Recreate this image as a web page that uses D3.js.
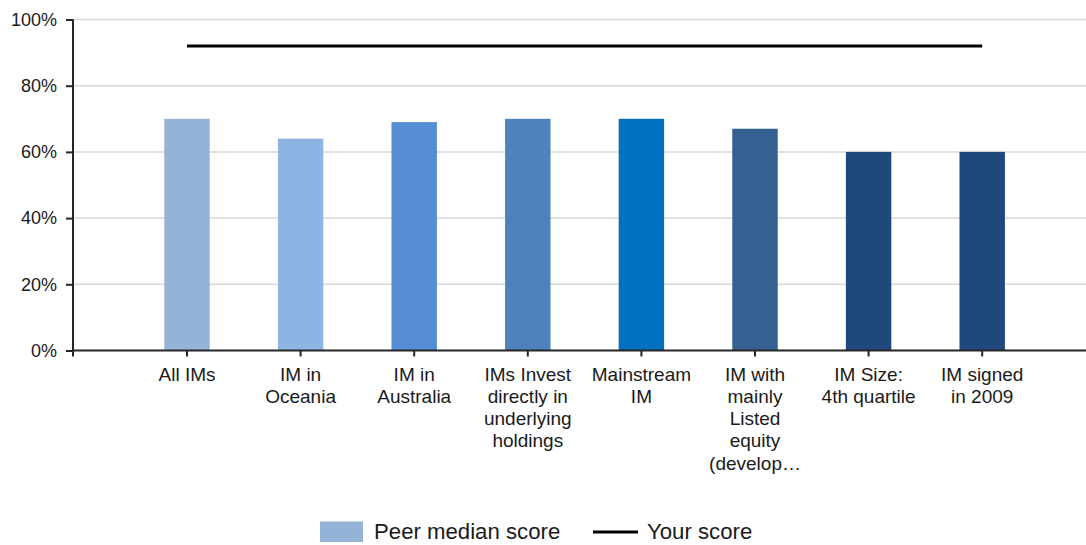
<!DOCTYPE html>
<html>
<head>
<meta charset="utf-8">
<script src="https://cdn.jsdelivr.net/npm/d3@7"></script>
<style>
  body { margin: 0; background: #fff; }
  text { font-family: "Liberation Sans", Arial, sans-serif; fill: #1a1a1a; }
</style>
</head>
<body>
<svg id="chart" width="1086" height="545"></svg>
<script>
const categories = ["All IMs", "IM in Oceania", "IM in Australia", "IMs Invest directly in underlying holdings",
  "Mainstream IM", "IM with mainly Listed equity (developed)", "IM Size: 4th quartile", "IM signed in 2009"];
const tickLines = [
  ["All IMs"],
  ["IM in", "Oceania"],
  ["IM in", "Australia"],
  ["IMs Invest", "directly in", "underlying", "holdings"],
  ["Mainstream", "IM"],
  ["IM with", "mainly", "Listed", "equity", "(develop\u2026"],
  ["IM Size:", "4th quartile"],
  ["IM signed", "in 2009"]
];
const peerMedian = [0.70, 0.64, 0.69, 0.70, 0.70, 0.67, 0.60, 0.60];
const yourScore = 0.92;
const barColors = ["#95b3d7", "#8eb4e3", "#558ed5", "#4f81bd", "#0070c0", "#376092", "#1f497d", "#1f497d"];
const yTicks = [0, 0.2, 0.4, 0.6, 0.8, 1.0];

const svg = d3.select("#chart");
const width = +svg.attr("width");
const axisLeftX = 73;
const y0 = 350.5, y1 = 19.5;

const x = d3.scaleBand()
    .domain(categories)
    .range([130.2, 1039])
    .paddingInner(0.6)
    .paddingOuter(0.3);
const y = d3.scaleLinear().domain([0, 1]).range([y0, y1]);

// gridlines
svg.append("g")
    .selectAll("line")
    .data(yTicks.slice(1))
    .join("line")
    .attr("x1", axisLeftX)
    .attr("x2", width)
    .attr("y1", d => y(d))
    .attr("y2", d => y(d))
    .attr("stroke", "#d9d9d9")
    .attr("stroke-width", 1.5);

// bars
svg.append("g")
    .selectAll("rect")
    .data(peerMedian)
    .join("rect")
    .attr("x", (d, i) => x(categories[i]))
    .attr("y", d => y(d))
    .attr("width", x.bandwidth())
    .attr("height", d => y0 - y(d))
    .attr("fill", (d, i) => barColors[i]);

// your score line
svg.append("line")
    .attr("x1", x(categories[0]) + x.bandwidth() / 2)
    .attr("x2", x(categories[categories.length - 1]) + x.bandwidth() / 2)
    .attr("y1", y(yourScore))
    .attr("y2", y(yourScore))
    .attr("stroke", "#000")
    .attr("stroke-width", 3);

// y axis
const yAxis = svg.append("g")
    .attr("transform", `translate(${axisLeftX},0)`)
    .call(d3.axisLeft(y).tickValues(yTicks).tickFormat(d3.format(".0%")).tickSize(7).tickPadding(9));
yAxis.select(".domain").attr("stroke", "#262626").attr("stroke-width", 2)
    .attr("d", `M0,${y1}V${y0 + 6}`);
yAxis.selectAll(".tick line").attr("stroke", "#262626").attr("stroke-width", 2);
yAxis.selectAll(".tick text").style("font-size", "18px").attr("fill", "#1a1a1a");

// x axis
const xAxis = svg.append("g")
    .attr("transform", `translate(0,${y0})`)
    .call(d3.axisBottom(x).tickSize(6).tickFormat(""));
xAxis.select(".domain").attr("stroke", "#262626").attr("stroke-width", 2)
    .attr("d", `M${axisLeftX},0H${width}`);
xAxis.selectAll(".tick line").attr("stroke", "#262626").attr("stroke-width", 2);

xAxis.selectAll(".tick text").remove();
xAxis.selectAll(".tick").each(function (d, i) {
  const t = d3.select(this).append("text")
      .attr("text-anchor", "middle")
      .style("font-size", "19px")
      .attr("fill", "#1a1a1a");
  tickLines[i].forEach((line, j) => {
    t.append("tspan").attr("x", 0).attr("y", 30 + j * 22.3).text(line);
  });
});

// legend
const legend = svg.append("g");
legend.append("rect")
    .attr("x", 320).attr("y", 521.5).attr("width", 43).attr("height", 20.5)
    .attr("fill", barColors[0]);
legend.append("text").attr("x", 374).attr("y", 539).style("font-size", "22.2px").text("Peer median score");
legend.append("line")
    .attr("x1", 593).attr("x2", 638).attr("y1", 532).attr("y2", 532)
    .attr("stroke", "#000").attr("stroke-width", 3);
legend.append("text").attr("x", 647).attr("y", 539).style("font-size", "22.2px").text("Your score");
</script>
</body>
</html>
